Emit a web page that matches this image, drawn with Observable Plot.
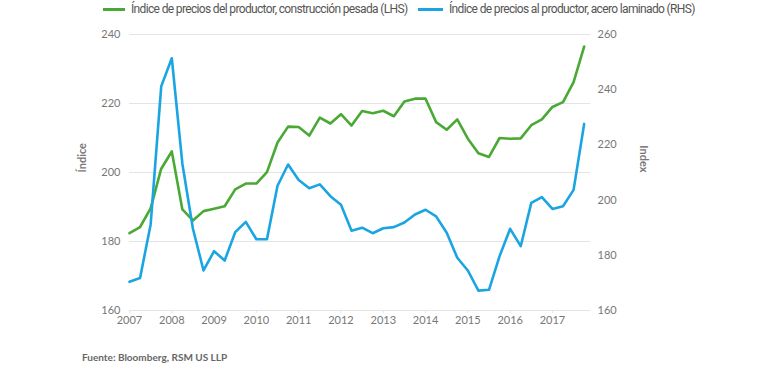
<!DOCTYPE html>
<html>
<head>
<meta charset="utf-8">
<script src="https://cdn.jsdelivr.net/npm/d3@7"></script>
<script src="https://cdn.jsdelivr.net/npm/@observablehq/plot@0.6"></script>
<style>
  body { margin: 0; background: #fff; font-family: Roboto, sans-serif; }
  #wrap { position: relative; width: 770px; height: 367px; }
  #legend { position: absolute; left: 0; top: 0; width: 770px; height: 20px; font-size: 12px; color: #555; letter-spacing: -0.65px; }
  .sw { position: absolute; top: 8px; height: 3px; }
  .lt { position: absolute; top: 1px; white-space: nowrap; line-height: 16px; }
  #chart { position: absolute; left: 0; top: 20px; }
  #caption { position: absolute; left: 82px; top: 351px; font-family: Lato, sans-serif; font-weight: bold; font-size: 10px; color: #666; }
</style>
</head>
<body>
<div id="wrap">
  <div id="legend"></div>
  <div id="chart"></div>
  <div id="caption">Fuente: Bloomberg, RSM US LLP</div>
</div>
<script>
const years = [2007, 2008, 2009, 2010, 2011, 2012, 2013, 2014, 2015, 2016, 2017];
const quarters = [];
for (const y of years) for (let q = 0; q < 4; q++) quarters.push(y + q * 0.25);

const seriesNames = [
  "Índice de precios del productor, construcción pesada (LHS)",
  "Índice de precios al productor, acero laminado (RHS)"
];
const colors = ["#4aa935", "#1aa5e2"];

const construccion = [182.4, 184.2, 189.6, 201.1, 206.1, 189.3, 186.1, 188.8, 189.5, 190.2, 195.1, 196.8,
  196.8, 200.1, 208.7, 213.3, 213.2, 210.7, 215.9, 214.2, 216.9, 213.6, 217.8, 217.2,
  217.9, 216.3, 220.6, 221.4, 221.4, 214.6, 212.4, 215.4, 209.8, 205.6, 204.5, 210.0,
  209.8, 209.9, 213.7, 215.4, 219.0, 220.4, 226.2, 236.5];

const acero = [170.4, 171.8, 191.2, 241.2, 251.4, 213.2, 189.6, 174.5, 181.5, 178.1, 188.4, 192.1,
  185.8, 185.8, 205.2, 212.9, 207.3, 204.3, 205.7, 201.4, 198.3, 188.9, 190.0, 188.0,
  189.8, 190.2, 191.9, 194.8, 196.5, 194.1, 188.2, 179.1, 174.5, 167.2, 167.5, 179.7,
  189.6, 183.3, 199.0, 201.1, 196.8, 197.8, 203.7, 227.6];

const leftTicks = [160, 180, 200, 220, 240];
const rightTicks = [160, 180, 200, 220, 240, 260];
const leftTitle = "Índice";
const rightTitle = "Index";

// map right-axis values (160..260) onto left scale (160..240)
const toLeft = v => 160 + (v - 160) * 0.8;

const dataL = quarters.map((x, i) => ({x, v: construccion[i]}));
const dataR = quarters.map((x, i) => ({x, v: toLeft(acero[i])}));

// legend
const legend = document.getElementById("legend");
const swX = [[103, 22], [418, 25]];
const txX = [131, 449];
seriesNames.forEach((n, i) => {
  const s = document.createElement("div");
  s.className = "sw";
  s.style.left = swX[i][0] + "px";
  s.style.width = swX[i][1] + "px";
  s.style.background = colors[i];
  legend.appendChild(s);
  const t = document.createElement("div");
  t.className = "lt";
  t.style.left = txX[i] + "px";
  t.textContent = n;
  legend.appendChild(t);
});

const chart = Plot.plot({
  width: 770,
  height: 328,
  marginTop: 14,
  marginBottom: 38,
  marginLeft: 129,
  marginRight: 180,
  style: {fontFamily: "Lato, sans-serif", fontSize: "11px", color: "#777"},
  x: {domain: [2007, 2017.9], label: null},
  y: {domain: [160, 240], label: null},
  marks: [
    Plot.ruleY(leftTicks.slice(1), {stroke: "#e4e4e4", strokeWidth: 1.2}),
    Plot.ruleY([160], {stroke: "#e4e4e4", strokeWidth: 1.2}),
    Plot.axisX(years, {tickFormat: d => String(d), tickSize: 3, stroke: "#e4e4e4", tickPadding: 3, fontSize: 11, fill: "#777"}),
    Plot.axisY(leftTicks, {anchor: "left", tickSize: 0, tickPadding: 9, label: null, fill: "#777"}),
    Plot.axisY(rightTicks.map(toLeft), {anchor: "right", tickSize: 0, tickPadding: 7, label: null, fill: "#777",
      tickFormat: d => String(Math.round(160 + (d - 160) / 0.8))}),
    Plot.text([leftTitle], {frameAnchor: "left", dx: -47, rotate: -90, fill: "#777", fontSize: 11, fontWeight: "bold"}),
    Plot.text([rightTitle], {frameAnchor: "right", dx: 53, rotate: 90, fill: "#777", fontSize: 11, fontWeight: "bold"}),
    Plot.line(dataL, {x: "x", y: "v", stroke: colors[0], strokeWidth: 2.6}),
    Plot.line(dataR, {x: "x", y: "v", stroke: colors[1], strokeWidth: 2.6})
  ]
});
document.getElementById("chart").appendChild(chart);
</script>
</body>
</html>
